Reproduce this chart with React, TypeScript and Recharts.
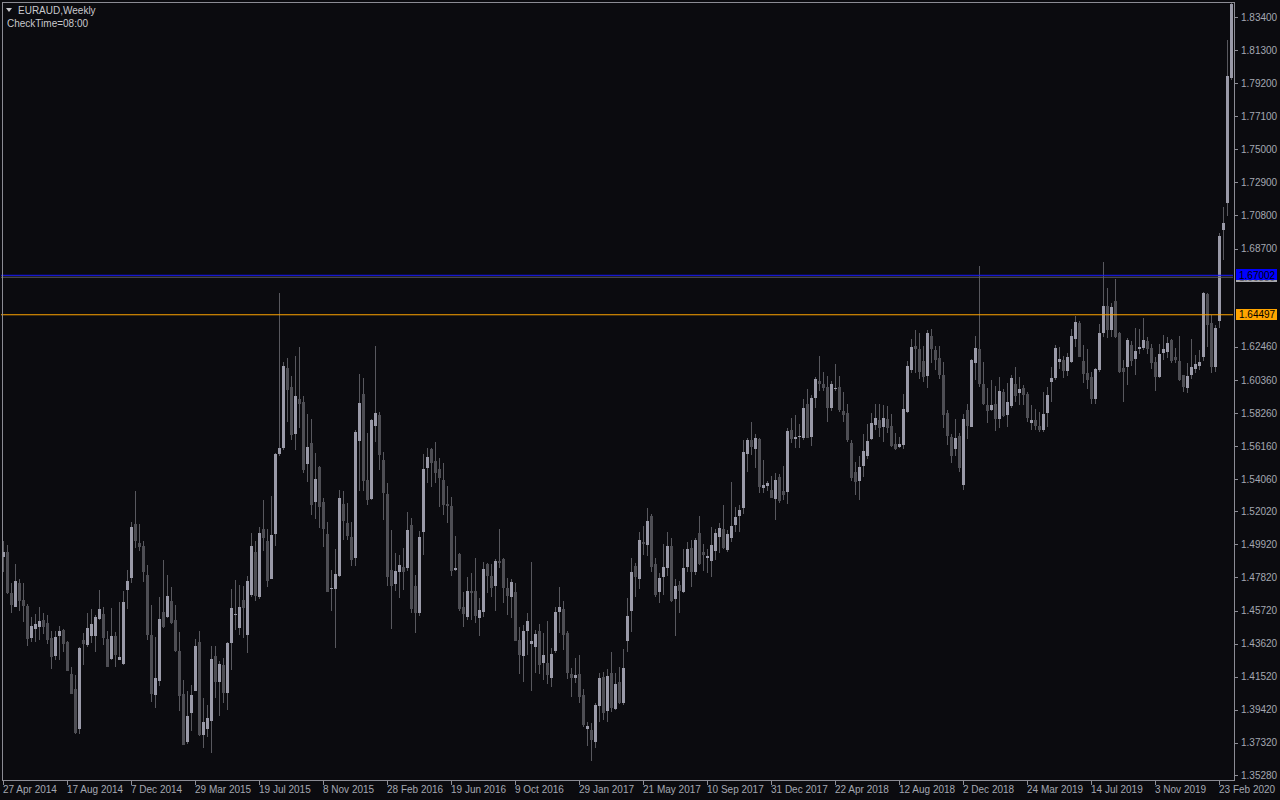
import React from 'react';
import { ComposedChart, Bar, XAxis, YAxis, ReferenceLine } from 'recharts';

const opens = [
  1.4914,1.4946,1.4685,1.4597,1.4749,1.4639,1.4601,1.4400,1.4457,1.4470,
  1.4512,1.4491,1.4396,1.4286,1.4413,1.4449,1.4372,1.4169,1.4074,1.3820,
  1.4385,1.4355,1.4413,1.4413,1.4518,1.4550,1.4391,1.4264,1.4413,1.4258,
  1.4233,1.4702,1.4781,1.5123,1.5003,1.4982,1.4798,1.4419,1.4036,1.4127,
  1.4563,1.4533,1.4635,1.4512,1.4315,1.4042,1.3737,1.3924,1.4063,1.4372,
  1.3784,1.3818,1.3873,1.4283,1.4121,1.4226,1.4051,1.4368,1.4548,1.4463,
  1.4639,1.4417,1.4671,1.4946,1.4660,1.5092,1.5016,1.4772,1.5058,1.5566,
  1.5606,1.6112,1.5991,1.5693,1.5915,1.5896,1.5502,1.5636,1.5261,1.5485,
  1.5261,1.5058,1.4712,1.4711,1.4791,1.5248,1.5130,1.5041,1.4908,1.5648,
  1.5947,1.5401,1.5280,1.5746,1.5813,1.5528,1.5312,1.4829,1.4743,1.4819,
  1.4846,1.4844,1.5115,1.4728,1.4558,1.5073,1.5479,1.5598,1.5521,1.5471,
  1.5401,1.5248,1.5236,1.4829,1.4931,1.4597,1.4533,1.4696,1.4696,1.4527,
  1.4565,1.4867,1.4791,1.4730,1.4887,1.4897,1.4713,1.4656,1.4688,1.4385,
  1.4286,1.4442,1.4360,1.4343,1.4442,1.4241,1.4241,1.4146,1.4317,1.4561,
  1.4580,1.4427,1.4169,1.4146,1.4169,1.4036,1.3820,1.3814,1.3740,1.3968,
  1.4152,1.3936,1.4173,1.3947,1.4116,1.3983,1.4381,1.4571,1.4855,1.4772,
  1.5009,1.4988,1.5174,1.4867,1.4692,1.4787,1.4844,1.4982,1.4645,1.4734,
  1.4692,1.4850,1.4967,1.4819,1.5062,1.4941,1.4908,1.4889,1.4952,1.5041,
  1.5088,1.4956,1.5035,1.5115,1.5174,1.5225,1.5566,1.5655,1.5598,1.5661,
  1.5352,1.5363,1.5337,1.5280,1.5418,1.5331,1.5327,1.5718,1.5661,1.5672,
  1.5665,1.5883,1.5676,1.5923,1.6029,1.6010,1.5993,1.5860,1.5981,1.5993,
  1.5841,1.5828,1.5638,1.5454,1.5394,1.5492,1.5555,1.5661,1.5750,1.5782,
  1.5739,1.5786,1.5743,1.5629,1.5612,1.5623,1.5834,1.6099,1.6251,1.6232,
  1.6156,1.6061,1.6315,1.6226,1.6173,1.6067,1.5824,1.5676,1.5598,1.5680,
  1.5369,1.5845,1.5739,1.6146,1.6232,1.6010,1.5877,1.5845,1.5883,1.5788,
  1.5957,1.5813,1.5873,1.6010,1.5951,1.5983,1.5947,1.5765,1.5782,1.5743,
  1.5718,1.5828,1.6025,1.6046,1.6152,1.6163,1.6093,1.6152,1.6294,1.6400,
  1.6156,1.6082,1.6057,1.5915,1.6099,1.6336,1.6505,1.6353,1.6537,1.6336,
  1.6114,1.6120,1.6258,1.6169,1.6232,1.6241,1.6283,1.6241,1.6148,1.6057,
  1.6205,1.6215,1.6289,1.6184,1.6156,1.6067,1.5987,1.6067,1.6105,1.6124,
  1.6184,1.6582,1.6400,1.6120,1.6412,1.6988,1.7161,1.7951,
];

const highs = [
  1.5013,1.4988,1.4749,1.4867,1.4772,1.4749,1.4614,1.4533,1.4550,1.4597,
  1.4554,1.4544,1.4444,1.4444,1.4474,1.4455,1.4379,1.4211,1.4163,1.4343,
  1.4427,1.4554,1.4582,1.4544,1.4702,1.4597,1.4444,1.4588,1.4434,1.4626,
  1.4696,1.4829,1.5136,1.5331,1.5121,1.5016,1.4861,1.4607,1.4406,1.4660,
  1.4893,1.4798,1.4724,1.4607,1.4434,1.4131,1.4063,1.4099,1.4393,1.4442,
  1.4015,1.3972,1.4347,1.4347,1.4252,1.4269,1.4374,1.4709,1.4766,1.4734,
  1.4728,1.4791,1.5066,1.5013,1.5104,1.5274,1.5092,1.5299,1.5574,1.6586,
  1.6152,1.6173,1.6061,1.6188,1.6247,1.5934,1.5818,1.5788,1.5574,1.5490,
  1.5284,1.5132,1.4829,1.4962,1.5337,1.5331,1.5253,1.5132,1.5718,1.6074,
  1.6046,1.5697,1.5786,1.6251,1.5832,1.5581,1.5380,1.5083,1.4935,1.4925,
  1.4967,1.5196,1.5162,1.4798,1.5077,1.5566,1.5606,1.5602,1.5642,1.5538,
  1.5507,1.5363,1.5291,1.5045,1.4935,1.4692,1.4787,1.4813,1.4903,1.4650,
  1.4882,1.4876,1.4867,1.4897,1.5088,1.4903,1.4776,1.4770,1.4745,1.4470,
  1.4480,1.4554,1.4878,1.4448,1.4487,1.4427,1.4506,1.4332,1.4592,1.4719,
  1.4633,1.4442,1.4205,1.4269,1.4290,1.4072,1.3866,1.3856,1.3987,1.4178,
  1.4184,1.4201,1.4307,1.4178,1.4211,1.4328,1.4649,1.4903,1.4876,1.5069,
  1.5109,1.5221,1.5185,1.4903,1.4808,1.4994,1.5069,1.5030,1.4770,1.4760,
  1.4960,1.5009,1.5020,1.5030,1.5172,1.4994,1.4963,1.5100,1.5088,1.5126,
  1.5242,1.5083,1.5386,1.5227,1.5242,1.5655,1.5669,1.5771,1.5693,1.5669,
  1.5528,1.5396,1.5426,1.5443,1.5437,1.5490,1.5729,1.5792,1.5813,1.5756,
  1.5913,1.5978,1.5940,1.6057,1.6188,1.6088,1.6061,1.6029,1.6137,1.6061,
  1.5961,1.5883,1.5655,1.5517,1.5553,1.5693,1.5756,1.5824,1.5881,1.5881,
  1.5877,1.5870,1.5817,1.5701,1.5671,1.5947,1.6156,1.6294,1.6353,1.6332,
  1.6251,1.6353,1.6357,1.6251,1.6251,1.6148,1.5845,1.5693,1.5786,1.5701,
  1.5817,1.5881,1.6169,1.6315,1.6759,1.6152,1.5983,1.6035,1.5997,1.6052,
  1.5978,1.6014,1.6067,1.6116,1.6057,1.6004,1.5961,1.5877,1.5849,1.5830,
  1.5961,1.5993,1.6120,1.6258,1.6247,1.6188,1.6205,1.6359,1.6442,1.6412,
  1.6258,1.6232,1.6088,1.6114,1.6391,1.6787,1.6622,1.6522,1.6677,1.6342,
  1.6163,1.6300,1.6285,1.6364,1.6359,1.6427,1.6306,1.6262,1.6184,1.6262,
  1.6321,1.6306,1.6294,1.6239,1.6315,1.6067,1.6146,1.6294,1.6194,1.6226,
  1.6596,1.6586,1.6448,1.6385,1.6967,1.7132,1.8194,1.8428,
];

const lows = [
  1.4819,1.4677,1.4559,1.4592,1.4571,1.4501,1.4349,1.4374,1.4374,1.4385,
  1.4423,1.4360,1.4203,1.4258,1.4258,1.4311,1.4186,1.4042,1.3788,1.3788,
  1.4226,1.4343,1.4364,1.4307,1.4512,1.4355,1.4216,1.4258,1.4216,1.4258,
  1.4226,1.4582,1.4745,1.4971,1.4952,1.4755,1.4385,1.3994,1.3955,1.4095,
  1.4463,1.4523,1.4487,1.4307,1.3934,1.3719,1.3725,1.3809,1.4063,1.3776,
  1.3697,1.3771,1.3666,1.4015,1.3905,1.3987,1.3941,1.4195,1.4449,1.4417,
  1.4396,1.4305,1.4660,1.4635,1.4645,1.4952,1.4719,1.4772,1.4984,1.5555,
  1.5591,1.5771,1.5655,1.5591,1.5733,1.5447,1.5390,1.5179,1.5155,1.5098,
  1.4978,1.4692,1.4571,1.4336,1.4783,1.5020,1.5020,1.4855,1.4855,1.5333,
  1.5333,1.5242,1.5274,1.5644,1.5464,1.5147,1.4728,1.4455,1.4698,1.4654,
  1.4702,1.4825,1.4554,1.4427,1.4539,1.4925,1.5384,1.5358,1.5380,1.5231,
  1.5179,1.5130,1.4791,1.4825,1.4571,1.4470,1.4512,1.4512,1.4491,1.4413,
  1.4533,1.4685,1.4660,1.4571,1.4840,1.4622,1.4544,1.4527,1.4381,1.4169,
  1.4121,1.4290,1.4063,1.4173,1.4169,1.4131,1.4106,1.4085,1.4300,1.4432,
  1.4322,1.4135,1.4025,1.4110,1.3987,1.3831,1.3712,1.3619,1.3697,1.3866,
  1.3877,1.3867,1.3930,1.3941,1.3979,1.3972,1.4311,1.4438,1.4660,1.4707,
  1.4925,1.4918,1.4815,1.4656,1.4622,1.4671,1.4793,1.4624,1.4413,1.4558,
  1.4681,1.4819,1.4724,1.4798,1.4861,1.4825,1.4808,1.4787,1.4893,1.4939,
  1.4960,1.4946,1.5009,1.5073,1.5073,1.5185,1.5454,1.5559,1.5479,1.5316,
  1.5316,1.5331,1.5284,1.5147,1.5253,1.5274,1.5248,1.5634,1.5602,1.5602,
  1.5655,1.5665,1.5617,1.5856,1.5966,1.5966,1.5771,1.5841,1.5968,1.5834,
  1.5771,1.5644,1.5394,1.5305,1.5274,1.5422,1.5534,1.5655,1.5718,1.5676,
  1.5644,1.5697,1.5612,1.5591,1.5606,1.5595,1.5824,1.6078,1.6078,1.6042,
  1.6025,1.5983,1.6141,1.6099,1.6042,1.5729,1.5623,1.5511,1.5553,1.5454,
  1.5337,1.5659,1.5739,1.6035,1.5993,1.5877,1.5765,1.5841,1.5714,1.5729,
  1.5798,1.5739,1.5856,1.5898,1.5877,1.5877,1.5771,1.5718,1.5718,1.5705,
  1.5705,1.5739,1.5898,1.6036,1.6103,1.6046,1.6061,1.6141,1.6247,1.6179,
  1.6019,1.5976,1.5883,1.5883,1.6088,1.6306,1.6300,1.6311,1.6300,1.6078,
  1.5898,1.6004,1.6126,1.6067,1.6201,1.6226,1.6201,1.6105,1.5968,1.6046,
  1.6163,1.6177,1.6141,1.6141,1.6031,1.5961,1.5955,1.6042,1.6082,1.6099,
  1.6158,1.6247,1.6082,1.6088,1.6364,1.6797,1.7077,1.7940,
];

const closes = [
  1.4946,1.4681,1.4607,1.4760,1.4635,1.4601,1.4393,1.4474,1.4487,1.4506,
  1.4470,1.4385,1.4279,1.4402,1.4442,1.4362,1.4190,1.4044,1.3797,1.4334,
  1.4362,1.4461,1.4487,1.4533,1.4582,1.4400,1.4216,1.4413,1.4290,1.4277,
  1.4626,1.4760,1.5102,1.5013,1.4978,1.4817,1.4419,1.4044,1.4144,1.4518,
  1.4470,1.4664,1.4495,1.4313,1.4032,1.3721,1.3903,1.4036,1.4347,1.3780,
  1.3862,1.3892,1.4264,1.4121,1.4233,1.4051,1.4364,1.4586,1.4550,1.4592,
  1.4586,1.4760,1.4982,1.4664,1.5066,1.5030,1.4762,1.5052,1.5566,1.5606,
  1.6124,1.5972,1.5686,1.5934,1.5883,1.5464,1.5612,1.5242,1.5407,1.5229,
  1.5092,1.4692,1.4714,1.4804,1.5286,1.5143,1.5045,1.4893,1.5705,1.5892,
  1.5394,1.5274,1.5782,1.5826,1.5560,1.5320,1.4787,1.4730,1.4823,1.4861,
  1.4817,1.5083,1.4582,1.4554,1.5041,1.5471,1.5549,1.5511,1.5443,1.5416,
  1.5242,1.5236,1.4825,1.4842,1.4582,1.4550,1.4696,1.4685,1.4537,1.4575,
  1.4836,1.4793,1.4717,1.4887,1.4876,1.4717,1.4666,1.4751,1.4381,1.4290,
  1.4442,1.4506,1.4379,1.4423,1.4226,1.4290,1.4163,1.4296,1.4561,1.4592,
  1.4417,1.4173,1.4146,1.4165,1.4021,1.3845,1.3839,1.3750,1.3972,1.4146,
  1.3919,1.4156,1.3955,1.4106,1.3983,1.4205,1.4537,1.4817,1.4787,1.5020,
  1.4994,1.5140,1.4850,1.4671,1.4776,1.4850,1.4982,1.4635,1.4728,1.4696,
  1.4840,1.4963,1.4819,1.5020,1.4867,1.4925,1.4918,1.4988,1.5062,1.5094,
  1.4967,1.5058,1.5109,1.5168,1.5210,1.5576,1.5655,1.5608,1.5665,1.5358,
  1.5369,1.5380,1.5289,1.5401,1.5270,1.5305,1.5712,1.5661,1.5672,1.5680,
  1.5856,1.5669,1.5919,1.6042,1.6010,1.5987,1.5860,1.6010,1.5985,1.5845,
  1.5813,1.5655,1.5411,1.5390,1.5485,1.5585,1.5648,1.5765,1.5792,1.5729,
  1.5792,1.5733,1.5619,1.5598,1.5629,1.5851,1.6124,1.6243,1.6234,1.6088,
  1.6057,1.6332,1.6232,1.6162,1.6067,1.5813,1.5680,1.5553,1.5665,1.5479,
  1.5786,1.5743,1.6162,1.6239,1.6010,1.5883,1.5839,1.5877,1.5788,1.5966,
  1.5807,1.5896,1.6050,1.5934,1.5978,1.5940,1.5796,1.5782,1.5743,1.5718,
  1.5820,1.5940,1.6050,1.6241,1.6169,1.6093,1.6179,1.6315,1.6406,1.6184,
  1.6074,1.6036,1.5915,1.6105,1.6332,1.6505,1.6353,1.6501,1.6306,1.6084,
  1.6088,1.6289,1.6156,1.6220,1.6247,1.6289,1.6232,1.6141,1.6057,1.6201,
  1.6232,1.6272,1.6158,1.6163,1.6036,1.5993,1.6061,1.6120,1.6137,1.6152,
  1.6590,1.6385,1.6120,1.6364,1.6950,1.7034,1.7965,1.8425,
];

const xTickLabels = [
  '27 Apr 2014', '17 Aug 2014', '7 Dec 2014', '29 Mar 2015', '19 Jul 2015',
  '8 Nov 2015', '28 Feb 2016', '19 Jun 2016', '9 Oct 2016', '29 Jan 2017',
  '21 May 2017', '10 Sep 2017', '31 Dec 2017', '22 Apr 2018', '12 Aug 2018',
  '2 Dec 2018', '24 Mar 2019', '14 Jul 2019', '3 Nov 2019', '23 Feb 2020',
];
const xTickStep = 16;

const yTicks = [
  1.834, 1.813, 1.792, 1.771, 1.75, 1.729, 1.708, 1.687,
  1.6246, 1.6036, 1.5826, 1.5616, 1.5406, 1.5202, 1.4992, 1.4782,
  1.4572, 1.4362, 1.4152, 1.3942, 1.3732, 1.3528,
];
const yDomain = [1.34961, 1.84289];

const blueLevel = 1.67002;
const grayLevel = 1.6688;
const orangeLevel = 1.64497;

const BG = '#0b0b0f';
const BULL = '#9a9aa8';
const BEAR = '#4e4e54';
const WICK = '#58585e';
const TXT = '#a4a8b2';
const FONT = '"Liberation Sans", Arial, sans-serif';

const data = opens.map((o, i) => ({
  i,
  o,
  h: highs[i],
  l: lows[i],
  c: closes[i],
  range: [lows[i], highs[i]],
}));

const Candle = (props: any) => {
  const { x, y, width, height, payload } = props;
  if (x == null || y == null || !payload) return null;
  const top = Math.min(y, y + height);
  const hpx = Math.abs(height);
  const { o, c, h, l } = payload;
  const span = h - l || 1e-9;
  const toY = (p: number) => top + ((h - p) / span) * hpx;
  const cx = x + width / 2;
  const up = c >= o;
  let bt = Math.round(toY(Math.max(o, c)));
  let bb = Math.round(toY(Math.min(o, c)));
  if (bb - bt < 1) bb = bt + 1;
  const wx = Math.floor(cx) + 0.5;
  return (
    <g>
      <line x1={wx} x2={wx} y1={Math.round(top)} y2={Math.round(top + hpx)} stroke={WICK} strokeWidth={1} />
      <rect x={Math.floor(cx) - 1} y={bt} width={3} height={bb - bt} fill={up ? BULL : BEAR} />
    </g>
  );
};

const XTick = (props: any) => {
  const { x, payload } = props;
  const i = Number(payload?.value);
  if (!(i % xTickStep === 0)) return <g />;
  const label = xTickLabels[i / xTickStep];
  if (!label) return <g />;
  const lx = Math.floor(x) + 0.5;
  return (
    <g>
      <line x1={lx} x2={lx} y1={781} y2={785} stroke="#8c8c94" strokeWidth={1} />
      <text x={x} y={793} fill={TXT} fontSize={10} fontFamily={FONT} textAnchor="start">
        {label}
      </text>
    </g>
  );
};

const YTick = (props: any) => {
  const { y, payload } = props;
  const ly = Math.round(y) + 0.5;
  return (
    <g>
      <line x1={1235} x2={1238} y1={ly} y2={ly} stroke="#8c8c94" strokeWidth={1} />
      <text x={1241} y={y} dy="0.36em" fill={TXT} fontSize={10} fontFamily={FONT} textAnchor="start">
        {Number(payload.value).toFixed(5)}
      </text>
    </g>
  );
};

const PriceBox = (props: any) => {
  const { viewBox, text, fill, color } = props;
  if (!viewBox) return null;
  const y = viewBox.y;
  return (
    <g>
      <rect x={1236} y={Math.round(y) - 6} width={41} height={11} fill={fill} />
      <text x={1239} y={y} dy="0.36em" fill={color} fontSize={10} fontFamily={FONT} textAnchor="start">
        {text}
      </text>
    </g>
  );
};

export default function App() {
  return (
    <div style={{ position: 'absolute', left: 0, top: 0, width: 1280, height: 800, background: BG, overflow: 'hidden' }}>
      <ComposedChart
        width={1280}
        height={800}
        data={data}
        margin={{ top: 3, right: 1, bottom: 0, left: 1 }}
        barCategoryGap={0}
        barGap={0}
      >
        <XAxis
          dataKey="i"
          type="category"
          interval={0}
          tick={<XTick />}
          tickLine={false}
          axisLine={false}
          height={20}
        />
        <YAxis
          orientation="right"
          type="number"
          domain={yDomain}
          allowDataOverflow
          ticks={yTicks}
          interval={0}
          tick={<YTick />}
          tickLine={false}
          axisLine={false}
          width={46}
        />
        <Bar dataKey="range" shape={<Candle />} isAnimationActive={false} />
        <ReferenceLine
          y={grayLevel}
          stroke="#5e5e64"
          strokeWidth={1}
          label={(p: any) => <PriceBox {...p} text="1.66880" fill="#a8a8ae" color="#606066" />}
        />
        <ReferenceLine
          y={blueLevel}
          stroke="#1a1aff"
          strokeWidth={1}
          label={(p: any) => <PriceBox {...p} text="1.67002" fill="#0000ff" color="#000000" />}
        />
        <ReferenceLine
          y={orangeLevel}
          stroke="#ffa500"
          strokeWidth={1}
          label={(p: any) => <PriceBox {...p} text="1.64497" fill="#ffa500" color="#000000" />}
        />
      </ComposedChart>
      <svg
        width={1280}
        height={800}
        style={{ position: 'absolute', left: 0, top: 0, pointerEvents: 'none' }}
      >
        <rect x={2.5} y={2.5} width={1232} height={778} fill="none" stroke="#8c8c94" strokeWidth={1} />
        <polygon points="6,8 12,8 9,12" fill="#c8c8cc" />
        <text x={18} y={14} fill="#c8c8cc" fontSize={10} fontFamily={FONT}>EURAUD,Weekly</text>
        <text x={7} y={27} fill="#c8c8cc" fontSize={10} fontFamily={FONT}>CheckTime=08:00</text>
      </svg>
    </div>
  );
}
